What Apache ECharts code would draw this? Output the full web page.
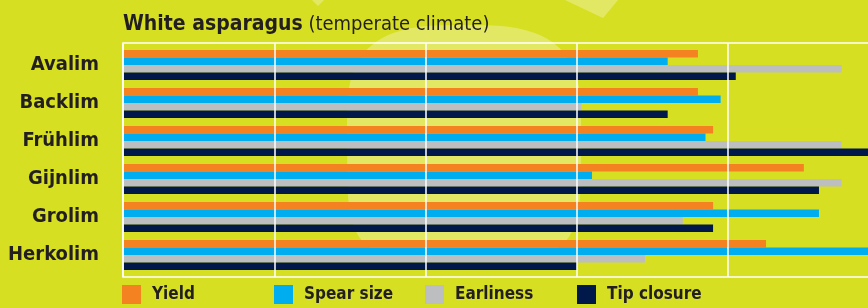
<!DOCTYPE html>
<html>
<head>
<meta charset="utf-8">
<script src="https://cdn.jsdelivr.net/npm/echarts@6/dist/echarts.min.js"></script>
<style>
html,body{margin:0;padding:0;background:#d7df22;}
#c{width:868px;height:308px;}
</style>
</head>
<body>
<div id="c"></div>
<script>
const categories = ['Avalim', 'Backlim', 'Frühlim', 'Gijnlim', 'Grolim', 'Herkolim'];
const seriesNames = ['Yield', 'Spear size', 'Earliness', 'Tip closure'];
const yieldVals    = [3.80, 3.80, 3.90, 4.50, 3.90, 4.25];
const spearVals    = [3.60, 3.95, 3.85, 3.10, 4.60, 5.00];
const earlyVals    = [4.75, 3.03, 4.75, 4.75, 3.70, 3.45];
const tipVals      = [4.05, 3.60, 5.00, 4.60, 3.90, 3.00];
const colors = ['#f58220', '#00aeef', '#bcbec0', '#00184a'];
const axisMin = 0, axisMax = 5, axisStep = 1;

const FONT = "'DejaVu Sans Condensed', 'DejaVu Sans', sans-serif";
const TXT = '#231f20';
const values = [yieldVals, spearVals, earlyVals, tipVals];

// decorative light backdrop blob (flat-topped superellipse shape)
function backdropPoints() {
  const pts = [];
  const cx = 464, cy = 125, rx = 117, ryTop = 100, ryBot = 133;
  for (let k = 0; k <= 40; k++) {
    const t = Math.PI + Math.PI * k / 40;
    const c = Math.cos(t), s = Math.sin(t);
    pts.push([cx + rx * Math.sign(c) * Math.pow(Math.abs(c), 2 / 3), cy + ryTop * Math.sign(s) * Math.pow(Math.abs(s), 2 / 3)]);
  }
  for (let k = 1; k < 40; k++) {
    const t = Math.PI * k / 40;
    const c = Math.cos(t), s = Math.sin(t);
    pts.push([cx + rx * Math.sign(c) * Math.pow(Math.abs(c), 2 / 5), cy + ryBot * Math.sign(s) * Math.pow(Math.abs(s), 2 / 5)]);
  }
  return pts;
}

const chart = echarts.init(document.getElementById('c'), null, {renderer: 'canvas'});
const legendLefts = [122, 274, 425, 577];
const LIGHT = 'rgba(255,255,255,0.3)';

const option = {
  backgroundColor: '#d7df22',
  animation: false,
  textStyle: {fontFamily: FONT},
  graphic: [
    {type: 'polygon', z: -10, silent: true, shape: {points: backdropPoints()}, style: {fill: LIGHT}},
    {type: 'polygon', z: -10, silent: true, shape: {points: [[565, 0], [618, 0], [603, 18]]}, style: {fill: LIGHT}},
    {type: 'polygon', z: -10, silent: true, shape: {points: [[312, 0], [324, 0], [318, 6]]}, style: {fill: LIGHT}}
  ],
  title: {
    left: 118, top: 9,
    text: '{b|White asparagus} {n|(temperate climate)}',
    textStyle: {
      rich: {
        b: {fontFamily: FONT, fontWeight: 'bold', fontSize: 21, color: TXT},
        n: {fontFamily: FONT, fontWeight: 'normal', fontSize: 20, color: TXT}
      }
    }
  },
  legend: seriesNames.map((n, i) => ({
    data: [n],
    left: legendLefts[i], top: 285,
    padding: 0,
    itemWidth: 19, itemHeight: 19,
    icon: 'rect',
    selectedMode: false,
    textStyle: {fontFamily: FONT, fontWeight: 'bold', fontSize: 17, color: TXT, padding: [4, 0, 0, 6]}
  })),
  grid: [
    {left: 123, width: 756.5, top: 46, bottom: 34, containLabel: false, outerBoundsMode: 'none'},
    {left: 123, width: 756.5, top: 43, bottom: 31, show: true, borderColor: '#ffffff', borderWidth: 1.5, z: 10, outerBoundsMode: 'none'}
  ],
  xAxis: [
    {gridIndex: 0, type: 'value', min: axisMin, max: axisMax, interval: axisStep,
     axisLine: {show: false}, axisTick: {show: false}, axisLabel: {show: false}, splitLine: {show: false}},
    {gridIndex: 1, type: 'value', min: axisMin, max: axisMax, interval: axisStep, z: 10,
     axisLine: {show: false}, axisTick: {show: false}, axisLabel: {show: false},
     splitLine: {show: true, lineStyle: {color: '#ffffff', width: 1.5}}}
  ],
  yAxis: [
    {gridIndex: 0, type: 'category', data: categories, inverse: true,
     axisLine: {show: false}, axisTick: {show: false},
     axisLabel: {margin: 24, fontFamily: FONT, fontWeight: 'bold', fontSize: 20, color: TXT}},
    {gridIndex: 1, type: 'value', min: 0, max: 1, show: false, splitLine: {show: false}}
  ],
  series: seriesNames.map((n, i) => ({
    name: n, type: 'bar', xAxisIndex: 0, yAxisIndex: 0,
    data: values[i],
    barWidth: 7.5, barGap: '0%',
    itemStyle: {color: colors[i]},
    z: 2
  }))
};
chart.setOption(option);
</script>
</body>
</html>
